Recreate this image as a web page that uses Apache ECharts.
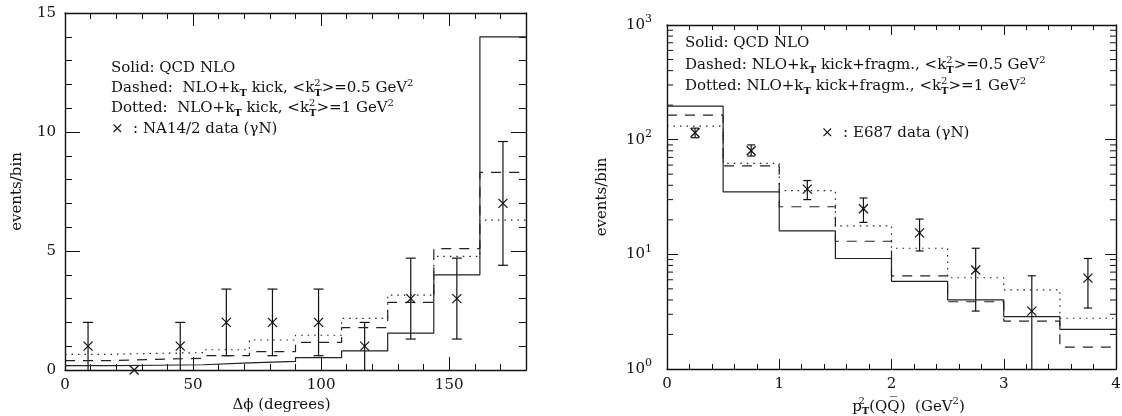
<!DOCTYPE html>
<html>
<head>
<meta charset="utf-8">
<script src="https://cdn.jsdelivr.net/npm/echarts@6/dist/echarts.min.js"></script>
<style>
  html, body { margin: 0; padding: 0; background: #fff; }
  #chart { width: 1122px; height: 416px; }
</style>
</head>
<body>
<div id="chart"></div>
<script>
// left panel: azimuthal distance, bins of 18 degrees
var phiEdges = [0, 18, 36, 54, 72, 90, 108, 126, 144, 162, 180];
var phiNLO = [0.18, 0.2, 0.22, 0.3, 0.36, 0.52, 0.8, 1.55, 4.0, 14.0];
var phiKick05 = [0.39, 0.45, 0.49, 0.6, 0.77, 1.16, 1.78, 2.84, 5.1, 8.3];
var phiKick1 = [0.66, 0.7, 0.73, 0.85, 1.26, 1.46, 2.17, 3.15, 4.77, 6.3];
var phiDataX = [9, 27, 45, 63, 81, 99, 117, 135, 153, 171];
var phiDataY = [1, 0, 1, 2, 2, 2, 1, 3, 3, 7];
var phiDataLo = [0, 0, 0, 0.6, 0.6, 0.6, 0, 1.3, 1.3, 4.4];
var phiDataHi = [2, 0, 2, 3.4, 3.4, 3.4, 2, 4.7, 4.7, 9.6];

// right panel: pair pT^2, bins of 0.5 GeV^2
var ptEdges = [0, 0.5, 1, 1.5, 2, 2.5, 3, 3.5, 4];
var ptNLO = [196, 35, 16, 9.2, 5.8, 4.0, 2.86, 2.22];
var ptKick05 = [164, 59, 26, 13, 6.5, 3.86, 2.62, 1.55];
var ptKick1 = [131, 62, 36, 17.7, 11.3, 6.25, 4.9, 2.77];
var ptDataX = [0.25, 0.75, 1.25, 1.75, 2.25, 2.75, 3.25, 3.75];
var ptDataY = [115, 80, 37, 25, 15.4, 7.3, 3.2, 6.2];
var ptDataLo = [104, 72, 30, 19, 10.7, 3.2, 1, 3.4];
var ptDataHi = [126, 90, 44, 31, 20.3, 11.3, 6.5, 9.2];

var FONT = 'DejaVu Serif';
var INK = '#111';

var chart = echarts.init(document.getElementById('chart'));

function stepData(edges, vals){
	var out = [];
	for(var i=0; i<edges.length; i++){
		out.push([edges[i], vals[Math.min(i, vals.length-1)]]);
	}
	return out;
}

function pointData(xs, ys, lo, hi){
	var out = [];
	for(var i=0; i<xs.length; i++){
		out.push([xs[i], ys[i], lo[i], hi[i]]);
	}
	return out;
}

function histLine(name, idx, data, type){
	return {
		name: name,
		type: 'line',
		step: 'end',
		xAxisIndex: idx,
		yAxisIndex: idx,
		data: data,
		showSymbol: false,
		silent: true,
		lineStyle: { color: '#222', width: 1.2, type: type }
	};
}

// error bar with caps and an x marker
function renderPoint(capHalf, logAxis){
	return function(params, api){
		var x = api.value(0), y = api.value(1), lo = api.value(2), hi = api.value(3);
		var c = api.coord([x, y]);
		var s = 4.5;
		var st = { stroke: INK, lineWidth: 1.2 };
		var kids = [
			{ type: 'line', shape: { x1: c[0]-s, y1: c[1]-s, x2: c[0]+s, y2: c[1]+s }, style: st },
			{ type: 'line', shape: { x1: c[0]-s, y1: c[1]+s, x2: c[0]+s, y2: c[1]-s }, style: st }
		];
		if(hi > lo){
			var a = api.coord([x, lo]), b = api.coord([x, hi]);
			kids.push({ type: 'line', shape: { x1: a[0], y1: a[1], x2: b[0], y2: b[1] }, style: st });
			kids.push({ type: 'line', shape: { x1: b[0]-capHalf, y1: b[1], x2: b[0]+capHalf, y2: b[1] }, style: st });
			// no cap where the bar runs into the axis
			if(lo > (logAxis ? 1 : 0)){
				kids.push({ type: 'line', shape: { x1: a[0]-capHalf, y1: a[1], x2: a[0]+capHalf, y2: a[1] }, style: st });
			}
		}
		return { type: 'group', children: kids };
	};
}

// minor ticks of the log axis at 2..9 x 10^k on both sides
var logMinor = [];
for(var k=0; k<3; k++){
	for(var m=2; m<10; m++){
		logMinor.push([m*Math.pow(10, k)]);
	}
}

var rich = {
	t: { fontFamily: FONT, fontSize: 15, color: INK, lineHeight: 20 },
	sub: { fontFamily: FONT, fontSize: 10, color: INK, lineHeight: 9, verticalAlign: 'bottom', fontWeight: 'bold' },
	sup: { fontFamily: FONT, fontSize: 10, color: INK, lineHeight: 10, verticalAlign: 'top' },
	supz: { fontFamily: FONT, fontSize: 10, color: INK, lineHeight: 10, verticalAlign: 'top', width: 0 }
};

function label(x, y, text){
	return {
		type: 'text', x: x, y: y, silent: true,
		style: { text: text, rich: rich, fill: INK, font: '15px ' + FONT, verticalAlign: 'middle', align: 'left' }
	};
}

function tickAxis(base){
	var common = {
		axisLine: { show: true, onZero: false, lineStyle: { color: INK, width: 1.4 } },
		axisTick: { show: true, inside: true, length: 13, lineStyle: { color: INK, width: 1 } },
		minorTick: { show: true, splitNumber: 5, length: 6, lineStyle: { color: INK, width: 1 } },
		splitLine: { show: false },
		axisLabel: { color: INK, fontFamily: FONT, fontSize: 15 }
	};
	for(var key in base){ common[key] = base[key]; }
	return common;
}

var option = {
	animation: false,
	backgroundColor: '#fff',
	grid: [
		{ left: 65, top: 13, width: 461, height: 357, containLabel: false, outerBoundsMode: 'none' },
		{ left: 667, top: 25, width: 449, height: 344, containLabel: false, outerBoundsMode: 'none' }
	],
	xAxis: [
		tickAxis({ gridIndex: 0, type: 'value', min: 0, max: 180, interval: 50, position: 'bottom',
			axisLabel: { color: INK, fontFamily: FONT, fontSize: 15, margin: 8, showMaxLabel: false },
			name: 'Δϕ (degrees)', nameLocation: 'middle', nameGap: 27,
			nameTextStyle: { color: INK, fontFamily: FONT, fontSize: 15, padding: [0, 28, 0, 0] } }),
		tickAxis({ gridIndex: 1, type: 'value', min: 0, max: 4, interval: 1, position: 'bottom',
			axisTick: { show: true, inside: true, length: 10, lineStyle: { color: INK, width: 1 } },
			minorTick: { show: true, splitNumber: 5, length: 5, lineStyle: { color: INK, width: 1 } },
			axisLabel: { color: INK, fontFamily: FONT, fontSize: 15, margin: 8 },
			name: '{t|p}{supz|2}{sub|T}{t|(QQ\u0305)  (GeV}{sup|2}{t|)}', nameLocation: 'middle', nameGap: 24,
			nameTextStyle: { color: INK, fontFamily: FONT, fontSize: 15, rich: rich, padding: [0, 0, 0, 34] } }),
		tickAxis({ gridIndex: 0, type: 'value', min: 0, max: 180, interval: 50, position: 'top',
			axisLabel: { show: false } }),
		tickAxis({ gridIndex: 1, type: 'value', min: 0, max: 4, interval: 1, position: 'top',
			axisTick: { show: true, inside: true, length: 10, lineStyle: { color: INK, width: 1 } },
			minorTick: { show: true, splitNumber: 5, length: 5, lineStyle: { color: INK, width: 1 } },
			axisLabel: { show: false } })
	],
	yAxis: [
		tickAxis({ gridIndex: 0, type: 'value', min: 0, max: 15, interval: 5, position: 'left',
			axisTick: { show: true, inside: true, length: 15, lineStyle: { color: INK, width: 1 } },
			minorTick: { show: true, splitNumber: 5, length: 7, lineStyle: { color: INK, width: 1 } },
			axisLabel: { color: INK, fontFamily: FONT, fontSize: 15, margin: 9 },
			name: 'events/bin', nameLocation: 'middle', nameGap: 40, nameRotate: 90,
			nameTextStyle: { color: INK, fontFamily: FONT, fontSize: 15 } }),
		tickAxis({ gridIndex: 1, type: 'log', logBase: 10, min: 1, max: 1000, position: 'left',
			axisTick: { show: true, inside: true, length: 11, lineStyle: { color: INK, width: 1 } },
			minorTick: { show: false },
			axisLabel: {
				margin: 15,
				formatter: function(v){ return '{b|10}{e|' + Math.round(Math.log(v)/Math.LN10) + '}'; },
				rich: {
					b: { fontFamily: FONT, fontSize: 15, color: INK, lineHeight: 22 },
					e: { fontFamily: FONT, fontSize: 11, color: INK, lineHeight: 11, verticalAlign: 'top' }
				}
			},
			name: 'events/bin', nameLocation: 'middle', nameGap: 57, nameRotate: 90,
			nameTextStyle: { color: INK, fontFamily: FONT, fontSize: 15 } }),
		tickAxis({ gridIndex: 0, type: 'value', min: 0, max: 15, interval: 5, position: 'right',
			axisTick: { show: true, inside: true, length: 15, lineStyle: { color: INK, width: 1 } },
			minorTick: { show: true, splitNumber: 5, length: 7, lineStyle: { color: INK, width: 1 } },
			axisLabel: { show: false } }),
		tickAxis({ gridIndex: 1, type: 'log', logBase: 10, min: 1, max: 1000, position: 'right',
			axisTick: { show: true, inside: true, length: 11, lineStyle: { color: INK, width: 1 } },
			minorTick: { show: false },
			axisLabel: { show: false } })
	],
	series: [
		histLine('QCD NLO', 0, stepData(phiEdges, phiNLO), 'solid'),
		histLine('kick 0.5', 0, stepData(phiEdges, phiKick05), [10, 8]),
		histLine('kick 1', 0, stepData(phiEdges, phiKick1), [1.5, 5]),
		{
			name: 'NA14/2', type: 'custom', xAxisIndex: 0, yAxisIndex: 0, silent: true, clip: false,
			renderItem: renderPoint(5, false), data: pointData(phiDataX, phiDataY, phiDataLo, phiDataHi)
		},
		histLine('QCD NLO', 1, stepData(ptEdges, ptNLO), 'solid'),
		histLine('kick+fragm 0.5', 1, stepData(ptEdges, ptKick05), [10, 8]),
		histLine('kick+fragm 1', 1, stepData(ptEdges, ptKick1), [1.5, 5]),
		{
			name: 'E687', type: 'custom', xAxisIndex: 1, yAxisIndex: 1, silent: true, clip: false,
			renderItem: renderPoint(4, true), data: pointData(ptDataX, ptDataY, ptDataLo, ptDataHi)
		},
		{
			name: 'log minor ticks', type: 'custom', xAxisIndex: 1, yAxisIndex: 1, silent: true,
			data: logMinor,
			renderItem: function(params, api){
				var a = api.coord([0, api.value(0)]);
				var b = api.coord([4, api.value(0)]);
				var st = { stroke: INK, lineWidth: 1 };
				return { type: 'group', children: [
					{ type: 'line', shape: { x1: a[0], y1: a[1], x2: a[0]+6, y2: a[1] }, style: st },
					{ type: 'line', shape: { x1: b[0], y1: b[1], x2: b[0]-6, y2: b[1] }, style: st }
				]};
			}
		}
	],
	graphic: [
		label(111, 68, '{t|Solid: QCD NLO}'),
		label(111, 88, '{t|Dashed:  NLO+k}{sub|T}{t| kick, <k}{supz|2}{sub|T}{t|>=0.5 GeV}{sup|2}'),
		label(111, 108, '{t|Dotted:  NLO+k}{sub|T}{t| kick, <k}{supz|2}{sub|T}{t|>=1 GeV}{sup|2}'),
		label(111, 129, '{t|×  : NA14/2 data (γN)}'),
		label(685, 43, '{t|Solid: QCD NLO}'),
		label(685, 65, '{t|Dashed: NLO+k}{sub|T}{t| kick+fragm., <k}{supz|2}{sub|T}{t|>=0.5 GeV}{sup|2}'),
		label(685, 86, '{t|Dotted: NLO+k}{sub|T}{t| kick+fragm., <k}{supz|2}{sub|T}{t|>=1 GeV}{sup|2}'),
		label(821, 133, '{t|×  : E687 data (γN)}')
	]
};

chart.setOption(option);
</script>
</body>
</html>
